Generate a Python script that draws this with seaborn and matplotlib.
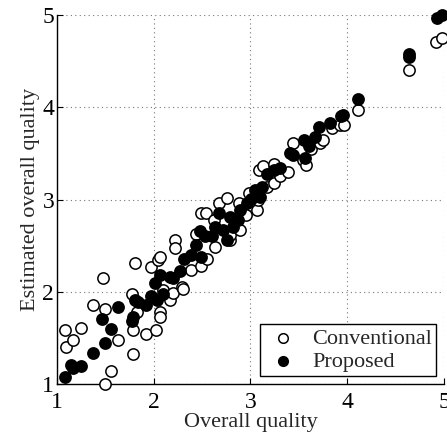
import numpy as np
import pandas as pd
import matplotlib
matplotlib.use("Agg")
import matplotlib.pyplot as plt
import seaborn as sns

# Conventional (open circles)
conv_x = [1.08, 1.09, 1.165, 1.245, 1.37, 1.475, 1.50, 1.50, 1.56, 1.63,
          1.78, 1.81, 1.785, 1.79, 1.83, 1.92, 1.97, 2.02, 2.04, 2.06,
          2.06, 2.06, 2.10, 2.17, 2.20, 2.215, 2.22, 2.29, 2.30, 2.38,
          2.435, 2.49, 2.54, 2.49, 2.55, 2.62, 2.63, 2.67, 2.76, 2.79,
          2.79, 2.88, 2.89, 2.95, 2.98, 3.07, 3.08, 3.09, 3.13, 3.17,
          3.24, 3.24, 3.31, 3.39, 3.44, 3.54, 3.57, 3.63, 3.72, 3.75,
          3.84, 3.93, 3.97, 4.115, 4.64, 4.92, 4.98]
conv_y = [1.585, 1.40, 1.48, 1.61, 1.86, 2.145, 1.81, 1.00, 1.145, 1.48,
          1.98, 2.31, 1.585, 1.32, 1.78, 1.54, 2.27, 1.59, 2.34, 2.38,
          1.78, 1.73, 2.02, 1.91, 1.99, 2.56, 2.47, 2.05, 2.03, 2.24,
          2.63, 2.85, 2.85, 2.28, 2.36, 2.78, 2.49, 2.96, 3.02, 2.56,
          2.61, 2.96, 2.67, 2.83, 3.07, 2.89, 2.995, 3.32, 3.36, 3.14,
          3.18, 3.39, 3.25, 3.30, 3.61, 3.43, 3.37, 3.55, 3.61, 3.65,
          3.77, 3.81, 3.81, 3.97, 4.40, 4.71, 4.75]

# Proposed (filled circles)
prop_x = [1.086, 1.14, 1.165, 1.25, 1.37, 1.47, 1.50, 1.56, 1.63, 1.78,
          1.79, 1.81, 1.84, 1.92, 1.97, 2.015, 2.03, 2.06, 2.10, 2.17,
          2.20, 2.27, 2.31, 2.38, 2.435, 2.48, 2.49, 2.53, 2.60, 2.635,
          2.67, 2.72, 2.76, 2.79, 2.82, 2.875, 2.89, 2.96, 3.01, 3.05,
          3.10, 3.12, 3.17, 3.24, 3.31, 3.41, 3.44, 3.55, 3.56, 3.60,
          3.67, 3.71, 3.82, 3.94, 3.96, 4.115, 4.635, 4.64, 4.93, 4.98]
prop_y = [1.08, 1.21, 1.17, 1.19, 1.34, 1.70, 1.44, 1.60, 1.84, 1.68,
          1.73, 1.91, 1.89, 1.86, 1.95, 2.09, 1.91, 2.18, 1.98, 2.16,
          2.145, 2.22, 2.36, 2.40, 2.51, 2.655, 2.38, 2.60, 2.60, 2.705,
          2.85, 2.67, 2.56, 2.815, 2.705, 2.78, 2.89, 2.96, 3.01, 3.10,
          3.03, 3.14, 3.28, 3.32, 3.34, 3.50, 3.48, 3.645, 3.45, 3.575,
          3.68, 3.79, 3.83, 3.90, 3.92, 4.085, 4.55, 4.58, 4.965, 5.00]

conv = pd.DataFrame({"x": conv_x, "y": conv_y})
prop = pd.DataFrame({"x": prop_x, "y": prop_y})

sns.set_style("ticks")
plt.rcParams["font.family"] = ["Liberation Serif", "DejaVu Serif"]
plt.rcParams["xtick.direction"] = "in"
plt.rcParams["ytick.direction"] = "in"

fig = plt.figure(figsize=(4.47, 4.34), dpi=100)
ax = fig.add_axes([0.1275, 0.1152, 0.8658, 0.8502])

sns.scatterplot(data=conv, x="x", y="y", ax=ax, marker="o", s=66,
                facecolor="white", edgecolor="black", linewidth=1.1,
                label="Conventional", clip_on=False, zorder=3)
sns.scatterplot(data=prop, x="x", y="y", ax=ax, marker="o", s=66,
                color="black", edgecolor="black", linewidth=1.1,
                label="Proposed", clip_on=False, zorder=4)

ax.set_xlim(1, 5)
ax.set_ylim(1, 5)
ax.set_xticks([1, 2, 3, 4, 5])
ax.set_yticks([1, 2, 3, 4, 5])
ax.tick_params(labelsize=17, length=4, width=0.8, colors="black", pad=2)
ax.tick_params(axis="x", pad=6)
ax.grid(True, linestyle=(0, (1, 3)), color="#777777", linewidth=0.8)
sns.despine(ax=ax)
for sp in ["left", "bottom"]:
    ax.spines[sp].set_linewidth(1.0)
    ax.spines[sp].set_color("black")
ax.set_xlabel("Overall quality", fontsize=16, labelpad=0)
ax.set_ylabel("Estimated overall quality", fontsize=16, labelpad=2)

leg = ax.legend(loc="lower right", fontsize=16, frameon=True, fancybox=False,
                handletextpad=0.45, borderpad=0.2, labelspacing=0.1,
                handlelength=1.7, borderaxespad=0.35, markerscale=0.85)
leg.get_frame().set_edgecolor("black")
leg.get_frame().set_linewidth(1.0)
leg.get_frame().set_alpha(1)

fig.savefig("out.png", dpi=100)
